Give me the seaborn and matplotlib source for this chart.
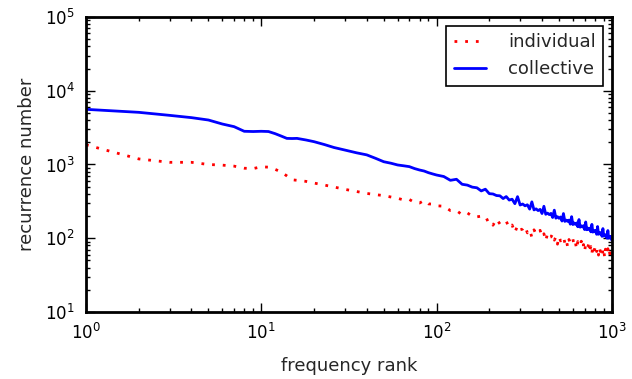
import numpy as np
import pandas as pd
import matplotlib
matplotlib.use("Agg")
import matplotlib.pyplot as plt
import seaborn as sns

# ranks 1..95 read point by point, then every 10th rank up to 1000
low_ranks = [1, 2, 3, 4, 5, 6, 7, 8, 9, 10, 11, 12, 13, 14, 15, 16, 18, 20, 23, 26,
             30, 35, 40, 45, 50, 55, 60, 65, 70, 75, 80, 85, 90, 95]
high_ranks = list(np.arange(100, 1001, 10))

individual_low = [1850, 1190, 1070, 1070, 1000, 980, 950, 890, 880, 930, 920, 860, 790, 700,
                  620, 610, 590, 560, 525, 495, 460, 430, 405, 390, 378, 362, 348, 330, 335,
                  305, 300, 325, 292, 290]
collective_low = [5600, 5100, 4640, 4320, 4010, 3540, 3260, 2820, 2800, 2820, 2800, 2620, 2430,
                  2260, 2250, 2260, 2150, 2040, 1860, 1700, 1570, 1440, 1350, 1210, 1090, 1040,
                  985, 960, 935, 880, 842, 815, 774, 745]

individual_high = [275, 272, 237, 237, 208, 220, 199, 195, 199, 173, 183, 150, 182, 156, 156,
                   170, 138, 151, 119, 149, 130, 133, 146, 118, 130, 103, 130, 113, 116, 128,
                   104, 115, 92, 116, 102, 104, 115, 94, 104, 83, 105, 92, 95, 105, 86, 96,
                   76, 96, 84, 88, 97, 80, 88, 71, 90, 79, 81, 91, 74, 82, 66, 84, 74, 76,
                   85, 70, 77, 62, 79, 69, 72, 80, 66, 73, 59, 75, 66, 68, 76, 62, 70, 55,
                   71, 62, 65, 72, 60, 67, 53, 68, 60]
collective_high = [720, 687, 610, 630, 539, 525, 493, 483, 438, 462, 402, 398, 379, 376, 345,
                   367, 329, 338, 294, 366, 282, 291, 275, 284, 248, 311, 242, 250, 237, 246,
                   216, 271, 211, 219, 209, 217, 191, 240, 187, 196, 186, 194, 171, 216, 169,
                   176, 169, 176, 155, 196, 153, 161, 154, 161, 143, 179, 141, 147, 142, 148,
                   131, 166, 130, 137, 131, 137, 122, 154, 121, 127, 122, 128, 113, 144, 113,
                   118, 114, 120, 106, 135, 107, 111, 107, 112, 100, 127, 100, 105, 101, 106, 94]

ranks = low_ranks + high_ranks
individual = individual_low + individual_high
collective = collective_low + collective_high

df = pd.DataFrame({
    "rank": ranks * 2,
    "count": individual + collective,
    "series": ["individual"] * len(ranks) + ["collective"] * len(ranks),
})

sns.set_style("ticks")
plt.rcParams["font.family"] = ["DejaVu Sans"]

fig, ax = plt.subplots(figsize=(6.32, 3.79), dpi=100)
fig.subplots_adjust(left=0.136, right=0.968, top=0.955, bottom=0.177)

sns.lineplot(data=df, x="rank", y="count", hue="series", style="series",
             hue_order=["individual", "collective"], style_order=["individual", "collective"],
             palette={"individual": "red", "collective": "blue"},
             dashes={"individual": (1, 2.85), "collective": ""},
             linewidth=2, estimator=None, sort=False, ax=ax)

ax.set_xscale("log")
ax.set_yscale("log")
ax.set_xlim(1, 1000)
ax.set_ylim(10, 1e5)
ax.set_xlabel("frequency rank", fontsize=13, labelpad=10)
ax.set_ylabel("recurrence number", fontsize=13, labelpad=6)

for s in ax.spines.values():
    s.set_linewidth(2)
    s.set_color("black")
ax.tick_params(which="both", direction="in", top=True, right=True, colors="black",
               labelsize=12, pad=8)
ax.tick_params(which="major", length=6.5, width=1)
ax.tick_params(which="minor", length=3.2, width=1)

leg = ax.legend(loc="upper right", fontsize=13, fancybox=False, edgecolor="black",
                framealpha=1, handlelength=1.8, handletextpad=1.2, borderaxespad=0.5)
leg.get_frame().set_linewidth(1.2)

fig.savefig("out.png", dpi=100)
